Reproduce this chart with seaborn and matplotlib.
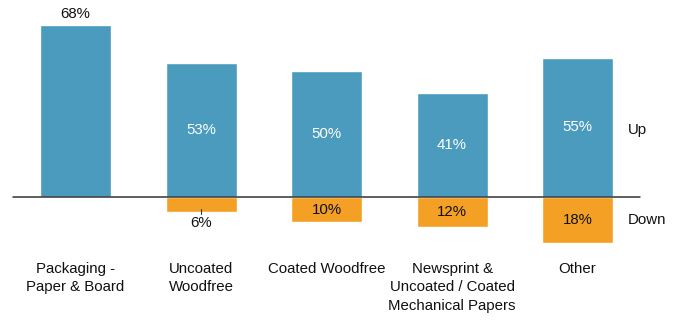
import numpy as np
import pandas as pd
import matplotlib
matplotlib.use("Agg")
import matplotlib.pyplot as plt
import seaborn as sns

# data
categories = ["Packaging -\nPaper & Board", "Uncoated\nWoodfree", "Coated Woodfree",
              "Newsprint &\nUncoated / Coated\nMechanical Papers", "Other"]
up_pct = [68, 53, 50, 41, 55]
down_pct = [0, 6, 10, 12, 18]

BLUE = "#4A9BBD"
ORANGE = "#F4A024"

sns.set_theme(style="white")
plt.rcParams['font.family'] = ['Liberation Sans', 'DejaVu Sans']

fig = plt.figure(figsize=(6.78, 3.22), dpi=100)
ax = fig.add_axes([0, 0, 1, 1])

keys = [str(i) for i in range(len(categories))]
df = pd.DataFrame({"cat": keys, "up": up_pct, "down": [-d for d in down_pct]})

sns.barplot(data=df, x="cat", y="up", color=BLUE, saturation=1, width=0.566, ax=ax)
sns.barplot(data=df, x="cat", y="down", color=ORANGE, saturation=1, width=0.566, ax=ax)

ax.set_xlim(-0.602, 4.80)
ax.set_ylim(-49.4, 77.9)
ax.axis("off")

# zero line
ax.plot([-0.5, 4.5], [0, 0], color="#333333", lw=1.1, zorder=3)

fs = 10.8
for i, (u, d) in enumerate(zip(up_pct, down_pct)):
    if i == 0:
        ax.text(i, u + 1.5, f"{u}%", ha="center", va="bottom", fontsize=fs, color="#111111")
    else:
        ax.text(i, u / 2, f"{u}%", ha="center", va="center", fontsize=fs, color="white")
    if d == 0:
        continue
    if d < 8:
        ax.plot([i, i], [-d + 1.2, -d - 0.8], color="#333333", lw=0.8)
        ax.text(i, -d - 1.5, f"{d}%", ha="center", va="top", fontsize=fs, color="#111111")
    else:
        ax.text(i, -d / 2, f"{d}%", ha="center", va="center", fontsize=fs, color="#111111")

for i, c in enumerate(categories):
    ax.text(i, -25.5, c, ha="center", va="top", fontsize=10.8, color="#111111", linespacing=1.42)

ax.text(4.40, 26.5, "Up", ha="left", va="center", fontsize=fs, color="#111111")
ax.text(4.40, -9.0, "Down", ha="left", va="center", fontsize=fs, color="#111111")

fig.savefig("out.png", dpi=100)
